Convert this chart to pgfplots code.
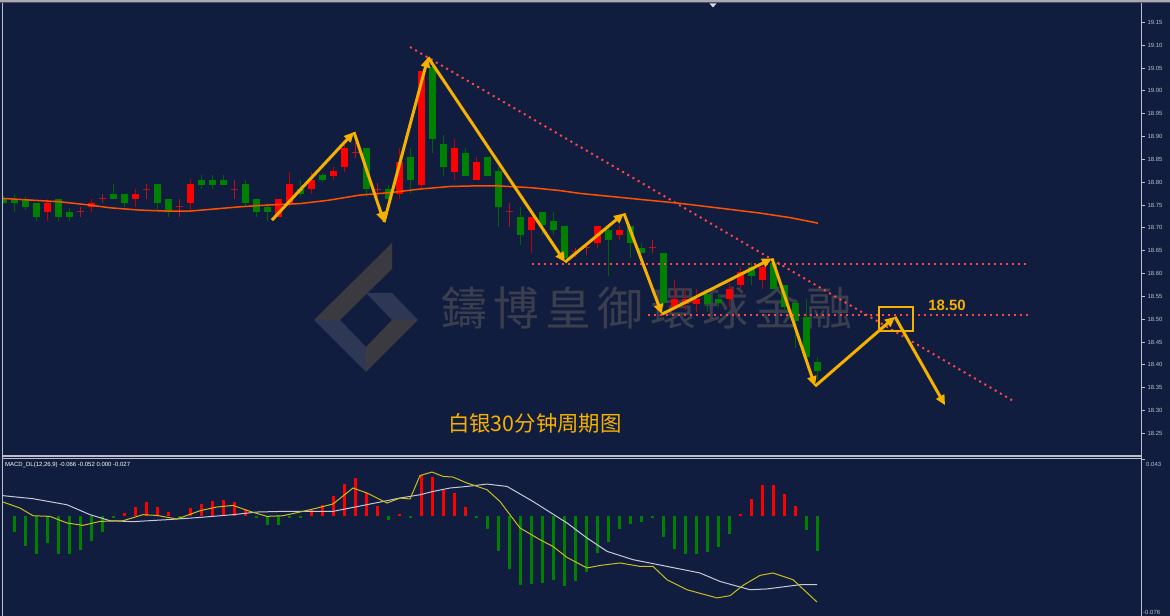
\documentclass[border=0pt]{standalone}
\usepackage{pgfplots}
\pgfplotsset{compat=1.18}
\usepackage{pgfplotstable}
\usepackage{fontspec}
\setmainfont{Liberation Sans}
\newfontfamily\cjk{Noto Sans CJK SC}
\newfontfamily\cjkwm[LetterSpace=14]{Noto Sans CJK TC}
\usetikzlibrary{arrows.meta}
\definecolor{bg}{RGB}{17,29,62}
\definecolor{upc}{RGB}{255,0,0}
\definecolor{upw}{RGB}{190,0,0}
\definecolor{dnc}{RGB}{0,128,0}
\definecolor{dnw}{RGB}{0,100,0}
\definecolor{doji}{RGB}{185,20,30}
\definecolor{ma}{RGB}{255,80,0}
\definecolor{zz}{RGB}{245,176,0}
\definecolor{tl}{RGB}{255,70,70}
\definecolor{axc}{RGB}{190,190,200}
\definecolor{wm}{RGB}{58,62,78}
\definecolor{dea}{RGB}{200,200,215}
\definecolor{dif}{RGB}{200,190,30}
\definecolor{lg1}{RGB}{58,58,64}
\definecolor{lg2}{RGB}{46,56,84}
\definecolor{topband}{RGB}{170,170,178}
\definecolor{topdark}{RGB}{80,80,95}
\definecolor{tri}{RGB}{215,215,225}

\pgfplotstableread{
i o h l c
4 18.734 18.764 18.715 18.755
8 18.746 18.764 18.734 18.755
12 18.764 18.784 18.745 18.774
17 18.755 18.806 18.735 18.796
25 18.724 18.764 18.724 18.764
26 18.754 18.823 18.745 18.796
28 18.784 18.823 18.774 18.805
30 18.813 18.834 18.805 18.824
31 18.834 18.885 18.823 18.874
36 18.774 18.874 18.764 18.845
38 18.794 19.043 18.786 19.043
41 18.823 18.894 18.805 18.874
43 18.805 18.854 18.805 18.845
48 18.695 18.724 18.644 18.724
54 18.666 18.704 18.655 18.704
56 18.684 18.704 18.673 18.695
61 18.527 18.585 18.520 18.545
62 18.534 18.565 18.520 18.545
63 18.534 18.565 18.516 18.545
66 18.545 18.580 18.527 18.565
67 18.574 18.615 18.565 18.604
69 18.585 18.626 18.565 18.615
}\up
\pgfplotstableread{
i o h l c
0 18.764 18.769 18.752 18.755
1 18.764 18.775 18.734 18.754
2 18.764 18.769 18.739 18.745
3 18.755 18.755 18.715 18.724
5 18.764 18.764 18.715 18.724
6 18.735 18.743 18.715 18.724
10 18.774 18.796 18.764 18.764
11 18.774 18.774 18.745 18.754
14 18.796 18.796 18.740 18.754
15 18.764 18.764 18.724 18.735
18 18.805 18.816 18.784 18.794
19 18.805 18.816 18.784 18.794
20 18.805 18.816 18.794 18.794
22 18.796 18.805 18.745 18.754
23 18.764 18.764 18.724 18.734
24 18.745 18.754 18.715 18.734
27 18.784 18.805 18.768 18.774
29 18.816 18.820 18.800 18.805
33 18.874 18.874 18.768 18.784
35 18.784 18.794 18.754 18.764
37 18.854 18.874 18.774 18.805
39 19.053 19.071 18.864 18.894
40 18.883 18.903 18.813 18.834
42 18.864 18.874 18.813 18.813
44 18.854 18.854 18.813 18.813
45 18.824 18.834 18.702 18.746
47 18.724 18.746 18.662 18.684
49 18.735 18.735 18.684 18.706
50 18.715 18.735 18.684 18.695
51 18.704 18.704 18.626 18.633
55 18.695 18.704 18.594 18.673
57 18.704 18.704 18.633 18.666
58 18.655 18.666 18.644 18.644
60 18.644 18.644 18.527 18.536
64 18.556 18.564 18.516 18.534
65 18.545 18.556 18.527 18.536
68 18.615 18.626 18.574 18.594
70 18.623 18.634 18.565 18.565
71 18.574 18.574 18.516 18.527
72 18.536 18.545 18.436 18.496
73 18.505 18.545 18.406 18.416
74 18.406 18.416 18.366 18.387
}\down
\pgfplotstableread{
i o h l c
7 18.735 18.745 18.724 18.737
9 18.764 18.775 18.754 18.766
13 18.784 18.796 18.764 18.786
16 18.745 18.764 18.724 18.747
21 18.784 18.805 18.764 18.786
32 18.864 18.888 18.852 18.866
34 18.783 18.797 18.768 18.785
46 18.735 18.754 18.702 18.737
52 18.647 18.655 18.636 18.649
53 18.655 18.666 18.640 18.657
59 18.655 18.673 18.644 18.657
}\doji
\pgfplotstableread{
i p
0 18.7643
5.18 18.7569
7.91 18.7497
9.73 18.7438
12.45 18.7387
14.91 18.7366
17 18.7366
19.09 18.7409
21.55 18.7460
24 18.7497
27 18.7530
29.5 18.7600
32.45 18.7716
35.18 18.7770
37.91 18.7848
40.64 18.7905
43.36 18.7920
45.18 18.7915
47.91 18.7880
50.64 18.7815
52.45 18.7753
57 18.7644
61.55 18.7535
66.09 18.7403
68.82 18.7322
71.55 18.7223
74.09 18.7102
}\ma
\pgfplotstableread{
i v
11 0.0020
12 0.0063
13 0.0101
14 0.0063
15 0.0028
17 0.0058
18 0.0089
19 0.0114
20 0.0116
21 0.0104
22 0.0053
28 0.0045
29 0.0083
30 0.0146
31 0.0240
32 0.0286
33 0.0172
34 0.0070
36 0.0015
38 0.0305
39 0.0290
40 0.0197
41 0.0172
42 0.0063
67 0.0015
68 0.0129
69 0.0235
70 0.0235
71 0.0164
72 0.0070
}\hpos
\pgfplotstableread{
i v
1 -0.0123
2 -0.0233
3 -0.0290
4 -0.0207
5 -0.0290
6 -0.0290
7 -0.0258
8 -0.0189
9 -0.0123
10 -0.0015
16 -0.0015
23 -0.0017
24 -0.0073
25 -0.0073
26 -0.0017
27 -0.0015
35 -0.0033
37 -0.0017
43 -0.0015
44 -0.0098
45 -0.0270
46 -0.0404
47 -0.0523
48 -0.0515
49 -0.0510
50 -0.0490
51 -0.0530
52 -0.0498
53 -0.0427
54 -0.0283
55 -0.0199
56 -0.0098
57 -0.0061
58 -0.0051
59 -0.0015
60 -0.0164
61 -0.0252
62 -0.0290
63 -0.0290
64 -0.0278
65 -0.0240
66 -0.0136
73 -0.0111
74 -0.0270
}\hneg
\pgfplotstableread{
i v
0 0.0152
2.73 0.0129
5.82 0.0083
7.91 0.0008
9.73 -0.0038
11.82 -0.0045
14.91 -0.0030
17.91 -0.0013
20.91 0.0008
23.09 0.0028
25.45 0.0033
30 0.0033
31.82 0.0063
34.55 0.0108
36.09 0.0134
37.91 0.0159
39.09 0.0184
40.64 0.0210
42.18 0.0222
44 0.0240
45.82 0.0222
48.18 0.0108
51.27 -0.0055
53.09 -0.0169
54.91 -0.0270
57.27 -0.0333
60.36 -0.0384
63.36 -0.0434
65.18 -0.0498
67.91 -0.0561
69.45 -0.0555
72.45 -0.0523
74 -0.0523
}\dea
\pgfplotstableread{
i v
0 0.0104
1.55 0.0058
2.73 0.0000
4.27 -0.0005
5.82 -0.0055
7.27 -0.0073
8.82 -0.0043
10.91 -0.0038
12.73 0.0008
14 0.0002
15.82 -0.0025
17.91 0.0038
19.45 0.0066
20.91 0.0078
22.45 0.0033
24 -0.0005
25.45 0.0000
27 0.0028
28.55 0.0058
30 0.0089
31.82 0.0210
33.09 0.0172
34.91 0.0096
36.09 0.0134
37 0.0127
37.91 0.0305
39 0.0331
40 0.0298
40.91 0.0293
42.18 0.0248
44 0.0197
45.18 0.0108
47 -0.0093
48.82 -0.0182
50 -0.0233
51.27 -0.0316
53.09 -0.0396
54.27 -0.0377
56.09 -0.0358
57.91 -0.0384
59.09 -0.0384
60.36 -0.0485
62.18 -0.0561
64.91 -0.0623
66.09 -0.0606
67.27 -0.0528
68.82 -0.0452
70 -0.0434
71.82 -0.0485
74 -0.0654
}\dif

\pgfplotsset{
  wick/.style={only marks, mark=none, mark size=0pt, mark options={draw=none, fill=none}, forget plot,
    error bars/y dir=plus, error bars/y explicit, error bars/error mark=none,
    error bars/error bar style={line width=1bp, draw=#1}},
  body/.style={only marks, mark=none, mark size=0pt, mark options={draw=none, fill=none}, forget plot,
    error bars/y dir=plus, error bars/y explicit, error bars/error mark=none,
    error bars/error bar style={line width=7bp, draw=#1}},
}

\begin{document}
\begin{tikzpicture}[x=1bp,y=1bp]
\fill[bg] (0,0) rectangle (1170,616);
\useasboundingbox (0,0) rectangle (1170,616);

% watermark logo
\fill[lg1] (314,296) -- (392,373) -- (392,347) -- (340,296) -- cycle;
\fill[lg2] (314,296) -- (366,244) -- (366,269) -- (340,296) -- cycle;
\fill[lg2] (366,323) -- (392,323) -- (418,296) -- (392,296) -- cycle;
\fill[lg1] (418,296) -- (366,244) -- (366,269) -- (392,296) -- cycle;
\node[text=wm, font={\cjkwm\fontsize{46}{50}\selectfont}] at (647,308.5) {鑄博皇御環球金融};

\begin{axis}[
  at={(3bp,160bp)}, anchor=south west, scale only axis,
  width=1138bp, height=451bp,
  xmin=0, xmax=103.4545, ymin=18.2003, ymax=19.1879,
  axis x line=none, axis y line*=right,
  y axis line style={draw=none},
  ytick={18.25,18.30,18.35,18.40,18.45,18.50,18.55,18.60,18.65,18.70,18.75,18.80,18.85,18.90,18.95,19.00,19.05,19.10,19.15},
  scaled y ticks=false,
  yticklabel style={font=\fontsize{6}{7}\selectfont, text=axc, xshift=-1bp,
    /pgf/number format/fixed, /pgf/number format/fixed zerofill,
    /pgf/number format/precision=2},
  /pgf/number format/assume math mode=true,
  tick align=outside, major tick length=4bp,
  tick style={draw=axc, line width=0.8bp},
]
\addplot[wick=upw] table[x=i, y=l, y error expr=\thisrow{h}-\thisrow{l}] {\up};
\addplot[wick=dnw] table[x=i, y=l, y error expr=\thisrow{h}-\thisrow{l}] {\down};
\addplot[wick=doji] table[x=i, y=l, y error expr=\thisrow{h}-\thisrow{l}] {\doji};
\addplot[body=upc] table[x=i, y=o, y error expr=\thisrow{c}-\thisrow{o}] {\up};
\addplot[body=dnc] table[x=i, y=c, y error expr=\thisrow{o}-\thisrow{c}] {\down};
\addplot[body=doji] table[x=i, y=o, y error expr=\thisrow{c}-\thisrow{o}] {\doji};
\addplot[ma, line width=1.5bp, mark=none] table[x=i, y=p] {\ma};

% trend lines
\draw[tl, line width=2bp, dash pattern=on 2bp off 4bp] (axis cs:37,19.0959) -- (axis cs:91.73,18.3224);
\draw[tl, line width=2bp, dash pattern=on 2bp off 4bp] (axis cs:48.09,18.6204) -- (axis cs:93.36,18.6204);
\draw[tl, line width=2bp, dash pattern=on 2bp off 4bp] (axis cs:58.64,18.5087) -- (axis cs:93.36,18.5087);

% zigzag arrows
\begin{scope}[zz, line width=3bp, -{Triangle[length=10bp, width=9bp]}]
\draw (axis cs:24.45,18.7168) -- (axis cs:31.91,18.9096);
\draw (axis cs:31.91,18.9096) -- (axis cs:34.64,18.7124);
\draw (axis cs:34.64,18.7124) -- (axis cs:38.64,19.0733);
\draw (axis cs:38.64,19.0733) -- (axis cs:51.09,18.6248);
\draw (axis cs:51.09,18.6248) -- (axis cs:56.45,18.7315);
\draw (axis cs:56.45,18.7315) -- (axis cs:59.91,18.5109);
\draw (axis cs:59.91,18.5109) -- (axis cs:69.91,18.6329);
\draw (axis cs:69.91,18.6329) -- (axis cs:73.82,18.3531);
\draw (axis cs:73.82,18.3531) -- (axis cs:81.09,18.5050);
\draw (axis cs:81.09,18.5050) -- (axis cs:85.64,18.3115);
\end{scope}
\draw[zz, line width=2bp] (axis cs:79.64,18.5262) rectangle (axis cs:82.73,18.4736);
\node[text=zz, font=\bfseries\fontsize{15}{16}\selectfont] at (axis cs:85.82,18.5306) {18.50};
\node[text=zz, font={\cjk\fontsize{21.5}{24}\selectfont}] at (axis cs:48.36,18.2720) {白银30分钟周期图};
\end{axis}

\begin{axis}[
  at={(3bp,0bp)}, anchor=south west, scale only axis,
  width=1138bp, height=157bp,
  xmin=0, xmax=103.4545, ymin=-0.076, ymax=0.043,
  hide axis,
]
\addplot[ycomb, upc, line width=3bp, mark=none] table[x=i, y=v] {\hpos};
\addplot[ycomb, dnc, line width=3bp, mark=none] table[x=i, y=v] {\hneg};
\addplot[dea, line width=1bp, mark=none] table[x=i, y=v] {\dea};
\addplot[dif, line width=1bp, mark=none] table[x=i, y=v] {\dif};
\end{axis}

% frame
\fill[topband] (0,613.5) rectangle (1170,616);
\draw[topdark, line width=1bp] (0,613) -- (1170,613);
\fill[tri] (709.5,612.5) -- (716.5,612.5) -- (713,608.5) -- cycle;
\draw[axc, line width=1.2bp] (2.5,0) -- (2.5,613);
\draw[axc, line width=1bp] (1141,0) -- (1141,613);
\draw[axc, line width=1.2bp] (2.5,160) -- (1141,160);
\draw[axc, line width=0.8bp] (2.5,158) -- (1141,158);
\draw[axc, line width=0.8bp] (1141,157) -- (1145,157);
\node[anchor=west, text=axc, font=\fontsize{6}{7}\selectfont, inner sep=0] at (1146,151.5) {0.043};
\node[anchor=west, text=axc, font=\fontsize{6}{7}\selectfont, inner sep=0] at (1143,3.5) {-0.076};
\node[anchor=west, text=white, font=\fontsize{6}{7}\selectfont, inner sep=0] at (5,151) {MACD\_DL(12,26,9) -0.066 -0.052 0.000 -0.027};
\end{tikzpicture}
\end{document}
